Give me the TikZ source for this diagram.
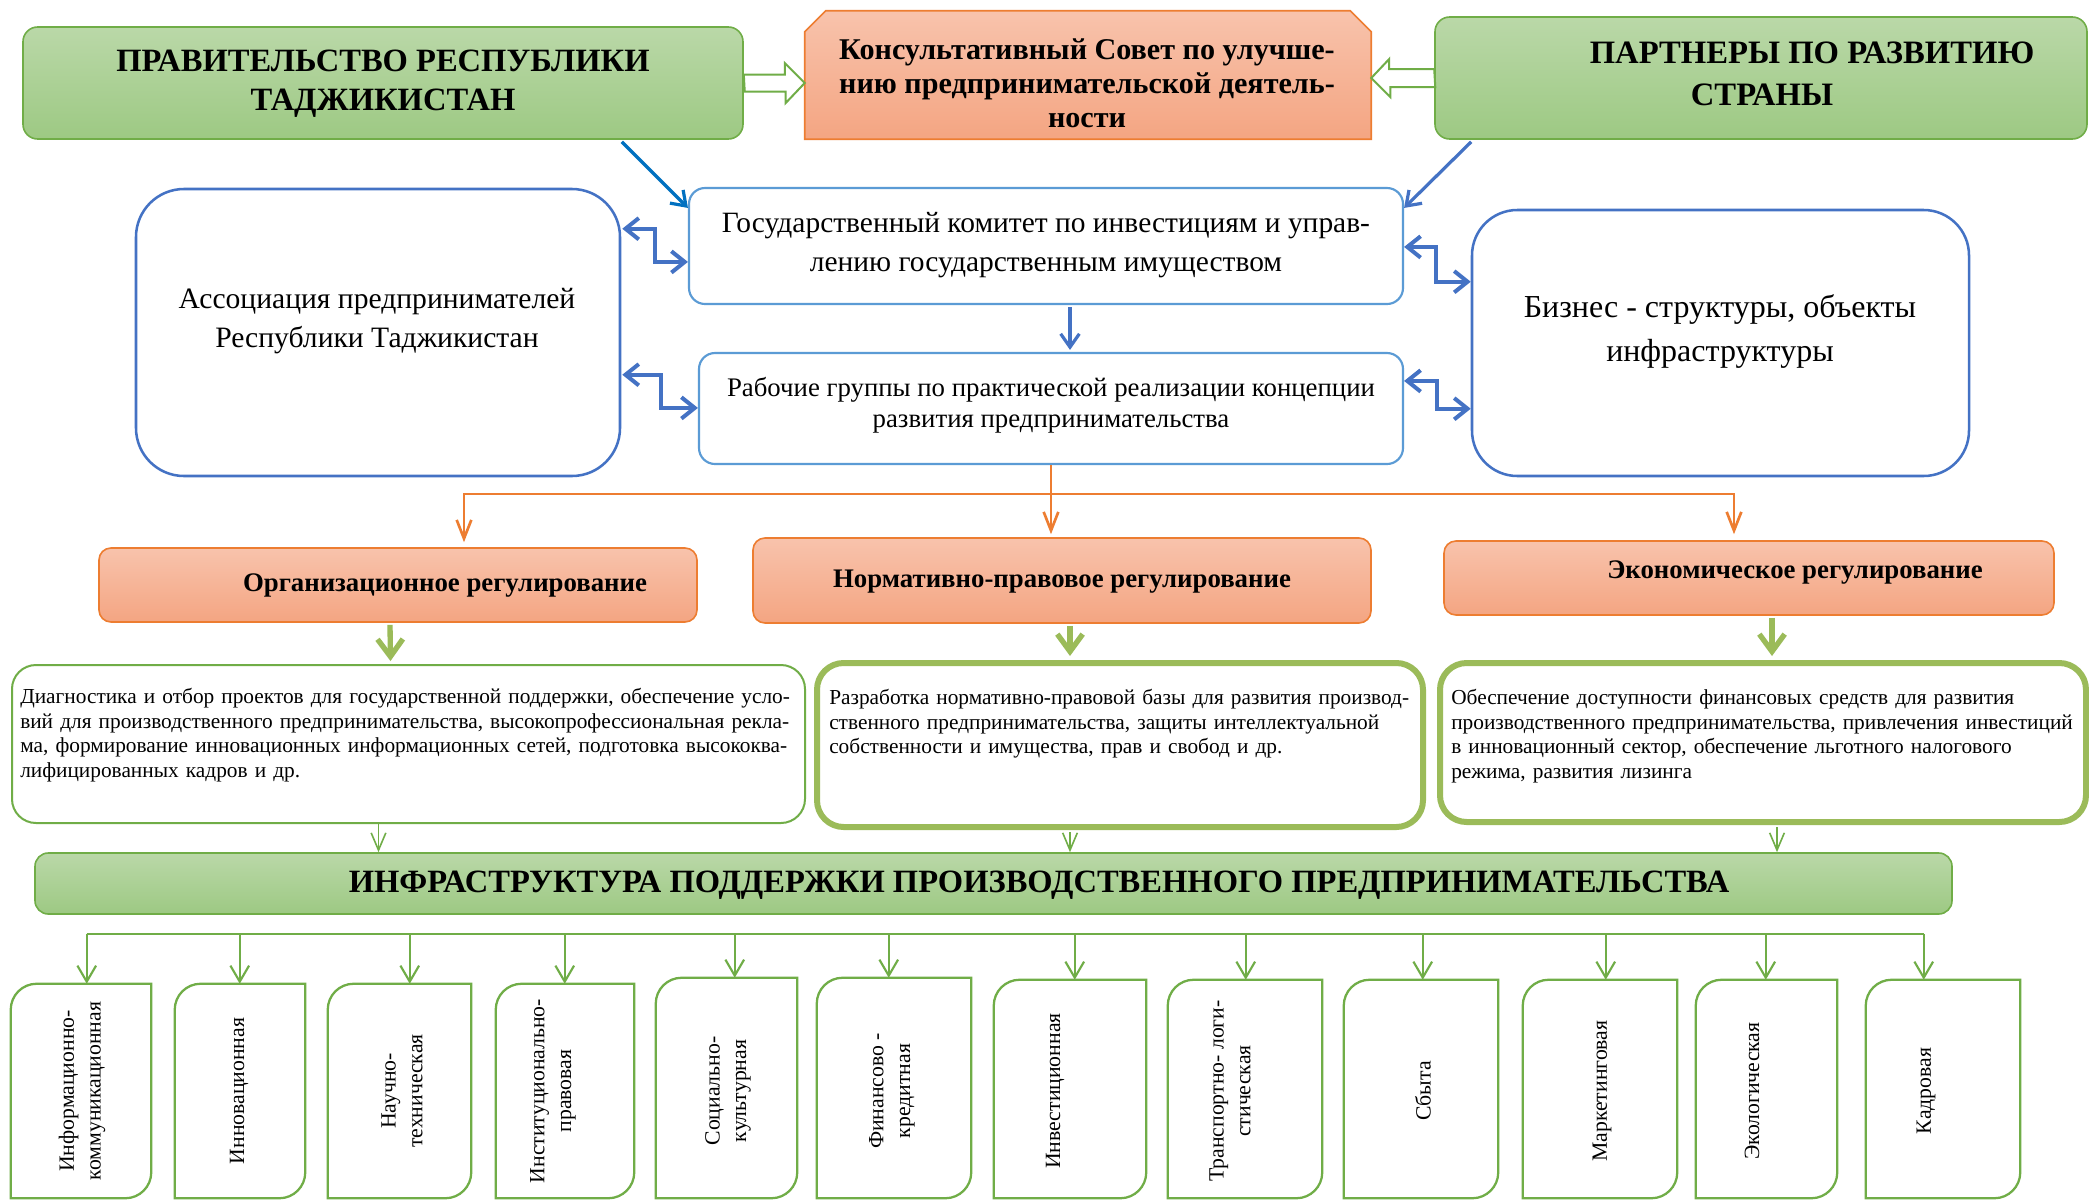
\documentclass[tikz,border=0pt]{standalone}
\usepackage{fontspec}
\setmainfont{Liberation Serif}
\usetikzlibrary{arrows.meta,calc,fit}
\definecolor{gtop}{RGB}{186,216,168}
\definecolor{gbot}{RGB}{157,201,131}
\definecolor{gborder}{RGB}{112,173,71}
\definecolor{glight}{RGB}{155,187,89}
\definecolor{otop}{RGB}{248,195,172}
\definecolor{obot}{RGB}{244,165,130}
\definecolor{oborder}{RGB}{237,125,49}
\definecolor{blight}{RGB}{91,155,213}
\definecolor{bmid}{RGB}{68,114,196}
\definecolor{bdark}{RGB}{0,112,192}
\newcommand\jline[2]{\makebox[#1][s]{#2}}
% name, x1, x2, top, label x, arrow x, text
\newcommand\infbox[7]{%
  \node[inner sep=0pt, fit={(#2,#4) (#3,1198)}] (#1) {};
  \draw[ibox] (#1.south west) -- ($(#1.north west)+(0,26)$)
    .. controls ($(#1.north west)+(0,11.6)$) and ($(#1.north west)+(11.6,0)$) .. ($(#1.north west)+(26,0)$)
    -- (#1.north east) -- ($(#1.south east)+(0,-26)$)
    .. controls ($(#1.south east)+(0,-11.6)$) and ($(#1.south east)+(-11.6,0)$) .. ($(#1.south east)+(-26,0)$)
    -- cycle;
  \coordinate (#1a) at ($(#1.north west)+({#6-#2},0)$);
  \node[vlab] (#1t) at (#5,1091) {#7};
}
\tikzset{
 gbox/.style={draw=gborder, line width=1.2pt, rounded corners=11pt, top color=gtop, bottom color=gbot, inner sep=0pt},
 obox/.style={draw=oborder, line width=1.2pt, rounded corners=9pt, top color=otop, bottom color=obot, inner sep=0pt},
 bbox/.style={draw=blight, line width=1.6pt, rounded corners=12pt, fill=white, inner sep=0pt},
 bbig/.style={draw=bmid, line width=1.9pt, rounded corners=36pt, fill=white, inner sep=0pt},
 pbox/.style={draw=gborder, line width=1.5pt, rounded corners=18pt, fill=white, inner sep=0pt},
 pboxthick/.style={draw=glight, line width=4.5pt, rounded corners=20pt, fill=white, inner sep=0pt},
 ibox/.style={draw=gborder, line width=1.7pt, fill=white},
 txt/.style={align=center, inner sep=0pt},
 vlab/.style={rotate=90, align=center, inner sep=0pt, font=\fontsize{16.3}{20}\selectfont},
 parab/.style={align=left, inner sep=0pt, anchor=north west, font=\fontsize{16}{18.4}\selectfont},
 harrow/.style={draw=gborder, line width=1.5pt, fill=white, line join=miter},
 barrow/.style={draw=bmid, line width=2.4pt, -{Straight Barb[length=10pt,width=14pt]}},
 darrow/.style={draw=bmid, line width=3pt, {Straight Barb[length=10pt,width=16pt]}-{Straight Barb[length=10pt,width=16pt]}},
 oarr/.style={draw=oborder, line width=2pt, -{Straight Barb[length=14pt,width=11pt]}},
 garrow/.style={draw=glight, line width=4pt, -{Straight Barb[length=13pt,width=19pt]}},
 gthin/.style={draw=gborder, line width=1.2pt, -{Straight Barb[length=13pt,width=11pt]}},
 gdrop/.style={draw=gborder, line width=1.6pt, -{Straight Barb[length=12pt,width=14pt]}},
}
\begin{document}
\begin{tikzpicture}[x=0.75pt,y=-0.75pt]
\fill[white] (0,0) rectangle (2089,1200);
\useasboundingbox (0,0) rectangle (2089,1200);

% ---------- top row ----------
\node[gbox, fit={(23,27) (743,139)}] (gov) {};
\node[txt, font=\fontsize{24.4}{29}\selectfont\bfseries] (govt) at (383,84) {ПРАВИТЕЛЬСТВО РЕСПУБЛИКИ\\ТАДЖИКИСТАН};

\node[inner sep=0pt, fit={(805,11) (1371,139)}] (council) {};
\path[draw=oborder, line width=1.2pt, top color=otop, bottom color=obot]
  (council.south west) -- ($(council.north west)+(0,21)$) -- ($(council.north west)+(21,0)$)
  -- ($(council.north east)+(-21,0)$) -- ($(council.north east)+(0,21)$) -- (council.south east) -- cycle;
\node[txt, font=\fontsize{22.6}{25.5}\selectfont\bfseries] (councilt) at (1087,83) {Консультативный Совет по улучше-\\нию предпринимательской деятель-\\ности};

\node[gbox, fit={(1435,17) (2087,139)}] (partners) {};
\node[txt, font=\fontsize{24.5}{31.5}\selectfont\bfseries] (partnerst) at (1812,74) {ПАРТНЕРЫ ПО РАЗВИТИЮ\\\hspace*{-75pt}СТРАНЫ};

% hollow block arrows
\coordinate (ha1s) at (gov.east);
\coordinate (ha1e) at (council.west |- gov.east);
\draw[harrow] (ha1s) ++(0,-8.5) -- ++(41,0) -- ++(0,-11.5) -- (ha1e) -- ++(-19,20) -- ++(0,-11.5) -- ++(-41,0) -- cycle;
\coordinate (ha2s) at (partners.west);
\coordinate (ha2e) at (council.east |- partners.west);
\draw[harrow] (ha2s) ++(0,-9) -- ++(-45,0) -- ++(0,-10) -- (ha2e) -- ++(19,19) -- ++(0,-10) -- ++(45,0) -- cycle;

% ---------- second tier ----------
\node[bbox, fit={(689,188) (1403,304)}] (com) {};
\node[txt, font=\fontsize{22.1}{29.5}\selectfont] (comt) at (1046,245) {Государственный комитет по инвестициям и управ-\\лению государственным имуществом};
\node[bbox, fit={(699,353) (1403,464)}] (work) {};
\node[txt, font=\fontsize{20.1}{23.5}\selectfont] (workt) at (1051,405) {Рабочие группы по практической реализации концепции\\развития предпринимательства};
\node[bbig, fit={(136,189) (620,476)}] (assoc) {};
\node[txt, font=\fontsize{22.2}{29}\selectfont] (assoct) at (377,321) {Ассоциация предпринимателей\\Республики Таджикистан};
\node[bbig, rounded corners=34pt, fit={(1472,210) (1969,476)}] (biz) {};
\node[txt, font=\fontsize{24}{33}\selectfont] (bizt) at (1720,331) {Бизнес - структуры, объекты\\инфраструктуры};

% blue arrows
\draw[barrow, draw=bdark] ($(gov.south east)+(-122,2)$) -- ($(com.north west)+(0,21)$);
\draw[barrow] ($(partners.south west)+(37,2)$) -- ($(com.north east)+(0,21)$);
\draw[barrow] ($(com.south)+(24,2)$) -- ($(work.north)+(19,-2)$);
\draw[darrow] ($(assoc.north east)+(1,41)$) -- ++(33,0) |- ($(com.north west)+(0,75)$);
\draw[darrow] ($(assoc.north east)+(1,187)$) -- ++(39,0) |- ($(work.north west)+(0,56)$);
\draw[darrow] ($(com.north east)+(0,60)$) -- ++(32,0) |- ($(biz.north west)+(0,73)$);
\draw[darrow] ($(work.north east)+(0,29)$) -- ++(33,0) |- ($(biz.north west)+(0,200)$);

% ---------- regulation ----------
\node[obox, fit={(99,548) (697,622)}] (org) {};
\node[txt, font=\fontsize{20.1}{25}\selectfont\bfseries] (orgt) at (445,586) {Организационное регулирование};
\node[obox, fit={(753,538) (1371,623)}] (norm) {};
\node[txt, font=\fontsize{20.1}{25}\selectfont\bfseries] (normt) at (1062,582) {Нормативно-правовое регулирование};
\node[obox, fit={(1444,541) (2054,615)}] (econ) {};
\node[txt, font=\fontsize{20.1}{25}\selectfont\bfseries] (econt) at (1795,573) {Экономическое регулирование};

\coordinate (ob) at ($(work.south)+(0,29)$);
\coordinate (oL) at ($(org.north)+(66,-5)$);
\coordinate (oR) at ($(econ.north)+(-15,-6)$);
\coordinate (oM) at ($(norm.north)+(0,-3)$);
\draw[oarr] (work.south) -- (work.south |- oM);
\draw[oarr] (ob) -| (oL);
\draw[oarr] (ob) -| (oR);

% ---------- descriptions ----------
\node[pbox, fit={(12,665) (805,823)}] (d1) {};
\node[pboxthick, fit={(817,663) (1423,827)}] (d2) {};
\node[pboxthick, fit={(1440,663) (2086,822)}] (d3) {};

\draw[garrow] ($(org.south)+(-8,2)$) -- ($(d1.north)+(-18,-3)$);
\draw[garrow] ($(norm.south)+(8,2)$) -- ($(d2.north)+(-50,-4)$);
\draw[garrow] ($(econ.south)+(23,2)$) -- ($(d3.north)+(9,-4)$);

\node[parab, text width=580pt] (d1t) at (20,688) {\noindent
\jline{580pt}{Диагностика и отбор проектов для государственной поддержки, обеспечение усло-}\\
\jline{580pt}{вий для производственного предпринимательства, высокопрофессиональная рекла-}\\
\jline{580pt}{ма, формирование инновационных информационных сетей, подготовка высококва-}\\
лифицированных кадров и др.};
\node[parab, text width=444pt] (d2t) at (829,689) {\noindent
\jline{444pt}{Разработка нормативно-правовой базы для развития производ-}\\
\jline{444pt}{ственного предпринимательства, защиты интеллектуальной}\\
собственности и имущества, прав и свобод и др.};
\node[parab, text width=476pt] (d3t) at (1451,689) {\noindent
\jline{476pt}{Обеспечение доступности финансовых средств для развития}\\
\jline{476pt}{производственного предпринимательства, привлечения инвестиций}\\
\jline{476pt}{в инновационный сектор, обеспечение льготного налогового}\\
режима, развития лизинга};

% ---------- infrastructure ----------
\node[gbox, rounded corners=10pt, fit={(35,853) (1952,914)}] (infra) {};
\node[txt, font=\fontsize{24.4}{28}\selectfont\bfseries] (infrat) at (1039,885) {ИНФРАСТРУКТУРА ПОДДЕРЖКИ ПРОИЗВОДСТВЕННОГО ПРЕДПРИНИМАТЕЛЬСТВА};

\coordinate (g1) at ($(d1.south)+(-30,0)$);
\coordinate (g2) at ($(d2.south)+(-50,2)$);
\coordinate (g3) at ($(d3.south)+(14,2)$);
\draw[gthin] (g1) -- (g1 |- infra.north);
\draw[gthin] (g2) -- (g2 |- infra.north);
\draw[gthin] (g3) -- (g3 |- infra.north);

% ---------- bottom boxes ----------
\infbox{b1}{11}{151}{984}{82}{87}{Информационно-\\коммуникационная}
\infbox{b2}{175}{305}{984}{239}{240}{Инновационная}
\infbox{b3}{328}{471}{984}{402}{410}{Научно-\\техническая}
\infbox{b4}{496}{634}{984}{553}{565}{Институционально-\\правовая}
\infbox{b5}{656}{797}{978}{728}{735}{Социально-\\культурная}
\infbox{b6}{817}{971}{978}{892}{889}{Финансово -\\кредитная}
\infbox{b7}{994}{1146}{980}{1055}{1075}{Инвестиционная}
\infbox{b8}{1168}{1322}{980}{1230}{1246}{Транспортно- логи-\\стическая}
\infbox{b9}{1344}{1498}{980}{1423}{1423}{Сбыта}
\infbox{b10}{1523}{1677}{980}{1602}{1606}{Маркетинговая}
\infbox{b11}{1696}{1837}{980}{1752}{1766}{Экологическая}
\infbox{b12}{1866}{2020}{980}{1926}{1924}{Кадровая}

\coordinate (busy) at (0,934);
\draw[draw=gborder, line width=2pt] (b1a |- busy) -- (b12a |- busy);
\foreach \bx in {b1,b2,b3,b4,b5,b6,b7,b8,b9,b10,b11,b12}{
  \draw[gdrop] (\bx a |- busy) -- (\bx a);
}
\end{tikzpicture}
\end{document}
